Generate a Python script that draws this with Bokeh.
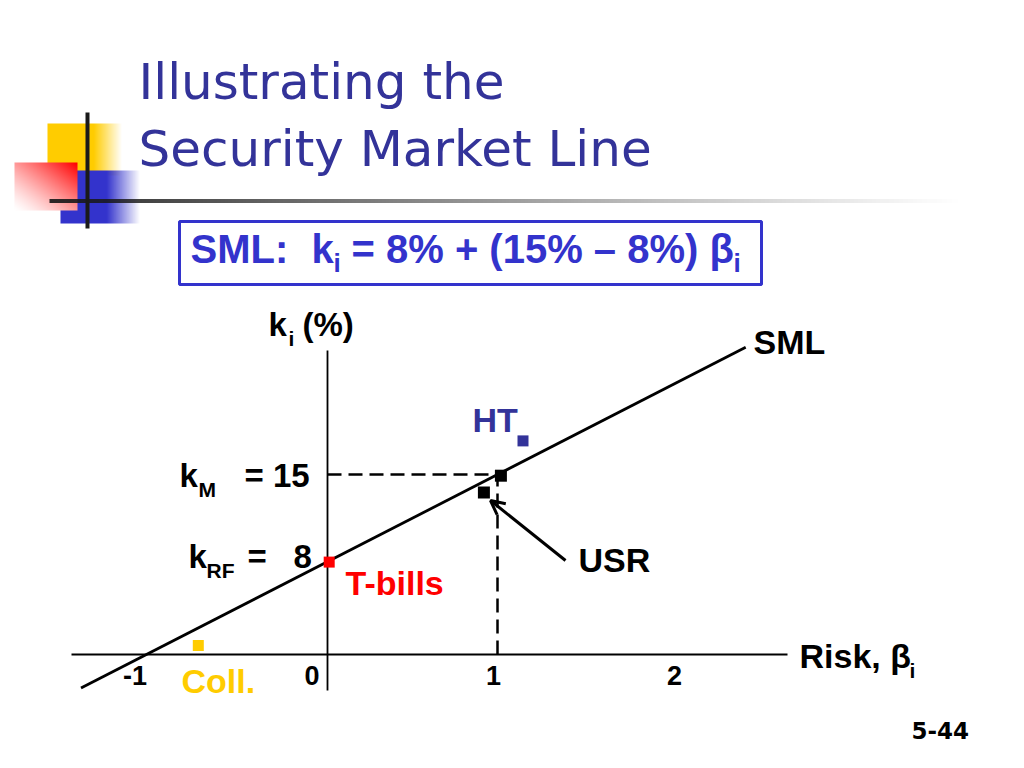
import numpy as np
from bokeh.plotting import figure
from bokeh.models import Range1d, Arrow, OpenHead
from bokeh.core.properties import value
from bokeh.embed import file_html
from bokeh.resources import INLINE

# ---------------- data ----------------
tick_betas = [-1, 0, 1, 2]
tick_labels = ["-1", "0", "1", "2"]

sml_beta = [-1.45, 2.46]        # SML end points (beta)
sml_k = [-2.8, 25.6]            # SML end points (k, %)

rf_k = 8.0                      # risk-free rate
market_beta = 1.0
market_k = 15.0                 # k_M

point_names = ["T-bills", "Coll.", "HT", "USR", "Market"]
point_beta = [0.01, -0.76, 1.15, 0.92, 1.02]
point_k = [7.7, 0.75, 17.8, 13.5, 14.9]
point_colors = ["#FF0000", "#FFCC00", "#333399", "#000000", "#000000"]
point_sizes = [11, 11, 11, 12, 12]

# ---------------- layout / scale helpers ----------------
W, H = 1008, 752
OX, OY = 327, 654        # picture pixel of origin (beta=0, k=0)
SX, SY = 170.0, 12.0     # pixels per beta unit, per k unit
BASE_K = 0.385           # baseline correction (fraction of font size)


def X(px):
    return (px - OX) / SX


def Y(py):
    return (OY - py) / SY


def TY(py, fs):
    return Y(py - BASE_K * fs)


p = figure(width=W, height=H, output_backend="svg", toolbar_location=None,
           x_range=Range1d(X(0), X(W)), y_range=Range1d(Y(H), Y(0)),
           x_axis_type=None, y_axis_type=None, min_border=0)
p.grid.visible = False
p.outline_line_color = None
p.background_fill_color = "white"
p.border_fill_color = "white"

# ---------------- decoration (gradient squares) ----------------


def to_u32(img):
    return np.ascontiguousarray(img).view(np.uint32).reshape(img.shape[0], img.shape[1])


def hfade(w, h, rgb, solid_frac):
    xs = np.linspace(0, 1, w)
    a = np.clip((1 - xs) / (1 - solid_frac), 0, 1)
    img = np.zeros((h, w, 4), dtype=np.uint8)
    img[..., 0] = rgb[0]
    img[..., 1] = rgb[1]
    img[..., 2] = rgb[2]
    img[..., 3] = (a * 255).astype(np.uint8)[None, :]
    return to_u32(img)


def place_img(img, left, top, right, bottom):
    p.image_rgba(image=[img], x=X(left), y=Y(bottom),
                 dw=(right - left) / SX, dh=(bottom - top) / SY)


# yellow
place_img(hfade(75, 52, (255, 204, 0), 0.62), 47, 123, 122, 175)
# blue
place_img(hfade(80, 53, (51, 51, 204), 0.58), 60, 170, 140, 223)
# red diagonal
rw, rh = 63, 48
xs = np.linspace(0, 1, rw)[None, :]
ys = np.linspace(0, 1, rh)[:, None]     # row 0 = bottom
t = np.clip((xs + ys) / 2, 0, 1) ** 1.3
red = np.zeros((rh, rw, 4), dtype=np.uint8)
red[..., 0] = 255
red[..., 1] = (255 * (1 - t)).astype(np.uint8)
red[..., 2] = (255 * (1 - t)).astype(np.uint8)
red[..., 3] = 255
place_img(to_u32(red), 14, 162, 77, 210)
# horizontal fading rule
lw_ = 916
hx = np.linspace(0, 1, lw_)
rule = np.zeros((1, lw_, 4), dtype=np.uint8)
rule[..., 0:3] = 25
rule[0, :, 3] = (235 * (1 - hx) ** 1.1).astype(np.uint8)
place_img(to_u32(rule), 49, 198.5, 965, 202.5)
# vertical black rule
p.segment(x0=[X(87)], y0=[Y(112)], x1=[X(87)], y1=[Y(228)],
          line_color="#1a1a1a", line_width=4)

# ---------------- title ----------------
title_font = value("DejaVu Sans")
TF = 50
p.text(x=[X(138), X(138)], y=[TY(101, TF), TY(168, TF)],
       text=["Illustrating the", "Security Market Line"],
       text_font=title_font, text_font_size=f"{TF}px", text_color="#333399",
       text_baseline="alphabetic", text_align="left")

# ---------------- formula box ----------------
p.quad(left=[X(179)], right=[X(761)], top=[Y(221)], bottom=[Y(284)],
       fill_alpha=0, line_color="#3333CC", line_width=3)
af = value("Liberation Sans")
FF = 40
p.text(x=[X(190), X(311), X(351)], y=[TY(264, FF)] * 3,
       text=["SML:", "k", "= 8% + (15% \u2013 8%) \u03b2"],
       text_font=af, text_font_style="bold", text_font_size=f"{FF}px",
       text_color="#3333CC", text_baseline="alphabetic")
p.text(x=[X(333), X(733)], y=[TY(273, 26)] * 2, text=["i", "i"],
       text_font=af, text_font_style="bold", text_font_size="26px",
       text_color="#3333CC", text_baseline="alphabetic")

# ---------------- axes ----------------
p.segment(x0=[X(71)], y0=[0], x1=[X(787)], y1=[0], line_color="black", line_width=1.8)
p.segment(x0=[0], y0=[Y(350)], x1=[0], y1=[Y(690)], line_color="black", line_width=1.8)

# dashed guides to the market point
p.line(x=[0, market_beta, market_beta], y=[market_k, market_k, 0],
       line_color="black", line_width=2.5, line_dash="14 7")

# SML
p.line(x=sml_beta, y=sml_k, line_color="black", line_width=2.8)

# points
p.scatter(x=point_beta, y=point_k, marker="square", size=point_sizes,
          fill_color=point_colors, line_color=None)

# arrow to USR
p.add_layout(Arrow(end=OpenHead(size=14, line_width=3, line_color="black"),
                   x_start=X(565), y_start=Y(560), x_end=X(490), y_end=Y(500),
                   line_width=3, line_color="black"))

# ---------------- labels ----------------
LF = 33
lab = [("k", 268, 337), ("(%)", 302, 337),
       ("k", 179, 488), ("= 15", 244, 488),
       ("k", 188, 569), ("=", 247, 569), (str(int(rf_k)), 293, 569)]
p.text(x=[X(a[1]) for a in lab], y=[TY(a[2], LF) for a in lab], text=[a[0] for a in lab],
       text_font=af, text_font_style="bold", text_font_size=f"{LF}px",
       text_color="black", text_baseline="alphabetic")
RF_ = 34
lab2 = [("SML", 753, 355), ("USR", 578, 573), ("Risk, \u03b2", 799, 669)]
p.text(x=[X(a[1]) for a in lab2], y=[TY(a[2], RF_) for a in lab2], text=[a[0] for a in lab2],
       text_font=af, text_font_style="bold", text_font_size=f"{RF_}px",
       text_color="black", text_baseline="alphabetic")
SF = 21
sub = [("i", 288, 346), ("M", 198, 497), ("RF", 206, 578), ("i", 909, 678)]
p.text(x=[X(a[1]) for a in sub], y=[TY(a[2], SF) for a in sub], text=[a[0] for a in sub],
       text_font=af, text_font_style="bold", text_font_size=f"{SF}px",
       text_color="black", text_baseline="alphabetic")

col = [("HT", 472, 433, "#333399"), ("T-bills", 345, 596, "#FF0000"),
       ("Coll.", 181, 694, "#FFCC00")]
p.text(x=[X(a[1]) for a in col], y=[TY(a[2], RF_) for a in col], text=[a[0] for a in col],
       text_color=[a[3] for a in col],
       text_font=af, text_font_style="bold", text_font_size=f"{RF_}px",
       text_baseline="alphabetic")

# tick labels
KF = 27
tick_nudge_px = [-22.5, -15.5, -4, 7]
p.text(x=[b + n / SX for b, n in zip(tick_betas, tick_nudge_px)], y=[TY(685, KF)] * 4,
       text=tick_labels, text_font=af, text_font_style="bold", text_font_size=f"{KF}px",
       text_color="black", text_baseline="alphabetic", text_align="center")

# page number
p.text(x=[X(911)], y=[TY(739, 23)], text=["5-44"], text_font=value("DejaVu Sans"),
       text_font_style="bold", text_font_size="23px", text_color="black",
       text_baseline="alphabetic")

open("out.html", "w").write(file_html(p, INLINE))
